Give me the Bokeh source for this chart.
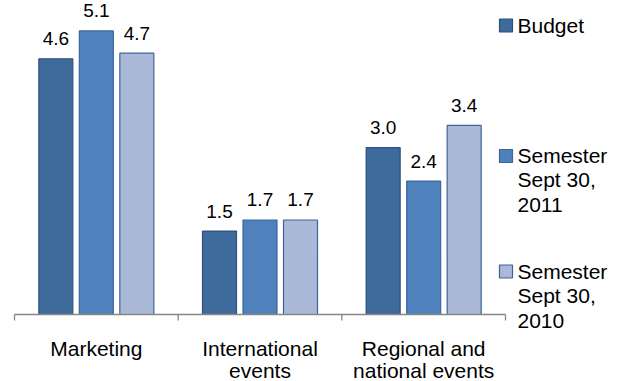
import numpy as np
from bokeh.plotting import figure
from bokeh.models import Range1d, ColumnDataSource
from bokeh.core.properties import value
from bokeh.embed import file_html
from bokeh.resources import INLINE

# ---- data ----
categories = ["Marketing", "International\nevents", "Regional and\nnational events"]
series_names = ["Budget", "Semester\nSept 30,\n2011", "Semester\nSept 30,\n2010"]
budget = [4.6, 1.5, 3.0]
sem_2011 = [5.1, 1.7, 2.4]
sem_2010 = [4.7, 1.7, 3.4]
series_values = [budget, sem_2011, sem_2010]

# ---- styles / layout ----
W, H = 622, 381
FONT = "Liberation Sans"
fills = ["#3F6A9C", "#4F81BD", "#AAB9D7"]
lines = ["#2F527D", "#3A67A0", "#3D639A"]
left_px, right_px = 14, 505          # axis extent in pixels
base_px = 314                         # baseline (axis) in pixels from top
px_per_unit = 55.6

n = len(categories)
ux = (right_px - left_px) / n
x_start = -left_px / ux
x_end = (W - left_px) / ux
y_end = base_px / px_per_unit
y_start = -(H - base_px) / px_per_unit

def sx(px):
    return x_start + px * (x_end - x_start) / W

def sy(py):
    return y_end - py * (y_end - y_start) / H

p = figure(width=W, height=H, output_backend="svg", toolbar_location=None,
           x_range=Range1d(x_start, x_end), y_range=Range1d(y_start, y_end),
           x_axis_location=None, y_axis_location=None,
           min_border=0, min_border_left=0, min_border_right=0,
           min_border_top=0, min_border_bottom=0)
p.outline_line_color = None
p.xgrid.visible = False
p.ygrid.visible = False
p.background_fill_color = "white"

bar_w = 34 / ux
step = 40.5 / ux
idx = np.arange(n) + 0.5
for k, vals in enumerate(series_values):
    xs = idx + (k - 1) * step
    src = ColumnDataSource(dict(x=xs, top=vals,
                                lab=["%.1f" % v for v in vals]))
    p.vbar(x="x", top="top", bottom=0, width=bar_w, source=src,
           fill_color=fills[k], line_color=lines[k], line_width=1.2)
    p.text(x="x", y="top", text="lab", source=src, y_offset=-20,
           text_align="center", text_baseline="alphabetic",
           text_font=value(FONT), text_font_size="19px", text_color="black")

# axis line and tick marks
p.segment(x0=[0], y0=[0], x1=[n], y1=[0], line_color="#868686", line_width=1.3)
p.ray(x=list(range(n + 1)), y=[0] * (n + 1), length=6, length_units="screen",
      angle=-np.pi / 2, line_color="#868686", line_width=1.3)

# category labels
p.text(x=list(idx), y=[0] * n, text=categories, y_offset=22,
       text_align="center", text_baseline="top", text_line_height=0.98,
       text_font=value(FONT), text_font_size="21px", text_color="black")

# legend
leg_sq_y = [25, 155.5, 271]
leg_txt_top = [13, 143, 259]
p.scatter(x=[sx(505.5)] * 3, y=[sy(v) for v in leg_sq_y], marker="square",
          size=13, fill_color=fills, line_color=lines, line_width=1.2)
p.text(x=[sx(517)] * 3, y=[sy(v) for v in leg_txt_top], text=series_names,
       text_align="left", text_baseline="top", text_line_height=1.08,
       text_font=value(FONT), text_font_size="21px", text_color="black")

open("out.html", "w").write(file_html(p, INLINE))
